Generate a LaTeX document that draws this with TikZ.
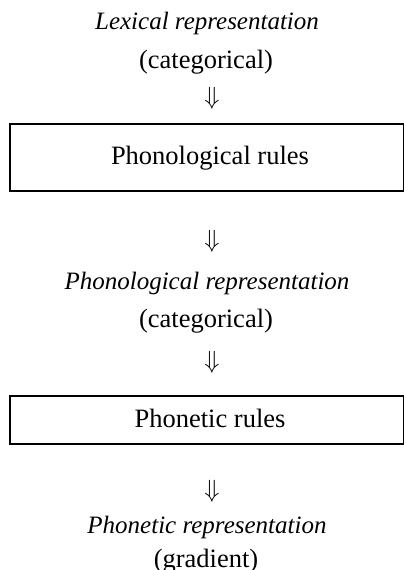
\documentclass[tikz,border=0pt]{standalone}
\usepackage{fontspec}
\setmainfont{Liberation Serif}
\begin{document}
\begin{tikzpicture}[x=1pt,y=-1pt,
  txt/.style={inner sep=0pt,font=\fontsize{26.5}{30}\selectfont,anchor=center},
  itx/.style={inner sep=0pt,font=\fontsize{25}{30}\selectfont\itshape,anchor=center},
  arr/.style={inner sep=0pt,font=\fontsize{24}{28}\selectfont},
  rulebox/.style={draw,line width=1.1pt}]
\useasboundingbox (0,0) rectangle (404,570);
\node[itx] (lex) at (207,23) {Lexical representation};
\node[txt] (lexc) at (206,62) {(categorical)};
\node[arr] (a1) at (212,98) {$\Downarrow$};
\draw[rulebox] (10,124) rectangle (403.5,191);
\node[txt] (pr) at (210,158) {Phonological rules};
\node[arr] (a2) at (212,241) {$\Downarrow$};
\node[itx] (phr) at (207,283) {Phonological representation};
\node[txt] (phrc) at (206,321) {(categorical)};
\node[arr] (a3) at (212,362) {$\Downarrow$};
\draw[rulebox] (10,396) rectangle (403.5,444);
\node[txt] (pt) at (210,418) {Phonetic rules};
\node[arr] (a4) at (212,491) {$\Downarrow$};
\node[itx] (ptr) at (207,527) {Phonetic representation};
\node[txt] (ptrc) at (206,561) {(gradient)};
\end{tikzpicture}
\end{document}
